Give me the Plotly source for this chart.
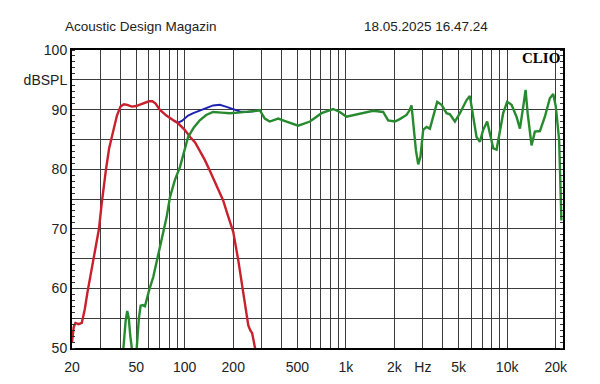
import numpy as np
import plotly.graph_objects as go

# ---------------- data ----------------
red_f = [20, 20.5, 21, 22, 23, 24, 25, 26, 27, 28, 29.4, 30.5, 31.5, 32.5, 34, 36, 38, 40,
         42, 44, 47, 50, 55, 60, 63, 66, 70, 77, 85, 91, 100, 105, 108, 116, 124, 133, 143,
         155, 165, 173, 185, 200, 215, 231, 240, 248, 255, 262, 273, 285]
red_db = [51, 53.5, 54.2, 54.0, 54.2, 56.5, 59.5, 62, 64.5, 67, 70, 74, 77.5, 80, 83.5, 86.5,
          89, 90.5, 90.9, 90.8, 90.5, 90.6, 91.0, 91.4, 91.4, 91.0, 90.0, 89.0, 88.2, 87.7,
          86.6, 85.8, 85.4, 84.5, 83.2, 81.6, 79.8, 77.6, 76.0, 74.8, 72.3, 69.5, 64.7, 59.1,
          56.0, 53.8, 53.0, 52.5, 50.0, 46.0]

blue_f = [85, 91, 96, 105, 113, 124, 137, 150, 165, 180, 200, 220, 242, 265, 280]
blue_db = [88.2, 87.8, 88.1, 89.0, 89.4, 89.9, 90.3, 90.7, 90.8, 90.5, 90.1, 89.7, 89.6, 89.7, 89.8]

green_f = [40, 41.6, 43, 44, 45, 46, 46.9, 48.5, 49.5, 50.4, 52, 53.3, 55, 56.7, 58, 60.3,
           63.8, 67, 70.3, 74, 77.3, 81, 87, 93.5, 100, 105, 114, 124, 136, 150, 170, 190,
           215, 242, 265, 279, 292, 314, 337, 380, 428, 506, 598, 706, 833, 916, 1008, 1136,
           1310, 1475, 1702, 1828, 2011, 2158, 2376, 2470, 2552, 2620, 2717, 2808, 2900,
           3015, 3164, 3318, 3478, 3682, 3920, 4210, 4415, 4742, 5094, 5604, 5870, 6157,
           6458, 6774, 7100, 7520, 7890, 8200, 8600, 9010, 9450, 10000, 10650, 11430, 12000,
           12580, 13010, 13400, 13830, 14170, 14860, 15960, 17140, 18400, 19310, 20040,
           21010, 21400, 21700]
green_db = [44, 50, 54.5, 56.2, 55, 52, 50, 45, 45, 50, 55, 57.1, 57.2, 57, 58.2, 59.8,
            61.9, 64.5, 66.9, 69.5, 72, 75.3, 78.2, 80.4, 83.5, 85.4, 87, 88.2, 89.1, 89.6,
            89.5, 89.4, 89.5, 89.6, 89.7, 89.8, 89.9, 88.5, 88.0, 88.5, 88.0, 87.3, 88.0,
            89.4, 90.1, 89.6, 88.8, 89.1, 89.5, 89.8, 89.6, 88.2, 88.0, 88.4, 89.1, 89.8,
            90.7, 87.7, 83.2, 80.8, 82.1, 86.6, 87.1, 86.8, 88.8, 91.3, 90.8, 89.4, 89.2,
            88.0, 89.4, 91.6, 92.3, 88.8, 85.4, 84.6, 86.6, 88.0, 85.7, 83.5, 83.3, 86.0,
            89.4, 91.3, 90.8, 88.8, 86.8, 90.5, 93.3, 89.4, 86.0, 84.0, 86.3, 86.4, 88.8,
            91.9, 92.6, 90.5, 84.9, 78.0, 71.4]

x_grid = [20, 30, 40, 50, 60, 70, 80, 90, 100, 200, 300, 400, 500, 600, 700, 800, 900,
          1000, 2000, 3000, 4000, 5000, 6000, 7000, 8000, 9000, 10000, 20000]
x_text = {20: "20", 50: "50", 100: "100", 200: "200", 500: "500", 1000: "1k", 2000: "2k",
          3000: "Hz", 5000: "5k", 10000: "10k", 20000: "20k"}
y_grid = [50, 55, 60, 65, 70, 75, 80, 85, 90, 95, 100]
y_text = {50: "50", 60: "60", 70: "70", 80: "80", 90: "90", 95: "dBSPL", 100: "100"}

# ---------------- figure ----------------
RED = "#C8202C"
GREEN = "#278A2E"
BLUE = "#1F22B0"
GRID = "#3c3c3c"
FONT = "Liberation Sans, Arial, sans-serif"

fig = go.Figure()
fig.add_trace(go.Scatter(x=blue_f, y=blue_db, mode="lines",
                         line=dict(color=BLUE, width=2), hoverinfo="skip"))
fig.add_trace(go.Scatter(x=red_f, y=red_db, mode="lines",
                         line=dict(color=RED, width=2.4), hoverinfo="skip"))
fig.add_trace(go.Scatter(x=green_f, y=green_db, mode="lines", yaxis="y2",
                         line=dict(color=GREEN, width=2.4), hoverinfo="skip"))

x_range = [np.log10(20), 4.3464]
# page body has an 8px margin: figure is 592x376, plot area 491x298
fig.update_layout(
    width=592, height=376,
    margin=dict(l=64, r=37, t=42, b=36),
    paper_bgcolor="white", plot_bgcolor="white",
    showlegend=False,
    font=dict(family=FONT, size=14, color="#222"),
    xaxis=dict(type="log", range=x_range, tickmode="array", automargin=False,
               tickvals=x_grid, ticktext=[x_text.get(v, "") for v in x_grid],
               showgrid=True, gridcolor=GRID, gridwidth=1,
               showline=True, linecolor="black", linewidth=2, mirror=True,
               ticks="", ticklabelstandoff=5, zeroline=False,
               tickfont=dict(size=14, color="#222")),
    yaxis=dict(range=[50, 100], tickmode="array", automargin=False,
               tickvals=y_grid, ticktext=[y_text.get(v, "") for v in y_grid],
               showgrid=True, gridcolor=GRID, gridwidth=1,
               showline=True, linecolor="black", linewidth=2, mirror=True,
               ticks="", zeroline=False,
               minor=dict(tickmode="array", tickvals=list(range(50, 101)),
                          ticks="inside", ticklen=3, tickcolor="#333", showgrid=False),
               tickfont=dict(size=14, color="#222")),
    yaxis2=dict(range=[50, 100], overlaying="y", side="right", automargin=False,
                showgrid=False, showticklabels=False, zeroline=False,
                showline=False, ticks="", tickmode="array", tickvals=[],
                minor=dict(tickmode="array", tickvals=list(range(50, 101)),
                           ticks="inside", ticklen=3, tickcolor="#333", showgrid=False)),
)

fig.add_annotation(text="Acoustic Design Magazin", xref="paper", yref="paper",
                   x=-0.019, y=1.0805, xanchor="left", yanchor="middle",
                   showarrow=False, font=dict(size=13.5, color="#222", family=FONT))
fig.add_annotation(text="18.05.2025 16.47.24", xref="paper", yref="paper",
                   x=0.8513, y=1.0805, xanchor="right", yanchor="middle",
                   showarrow=False, font=dict(size=13.5, color="#222", family=FONT))
fig.add_annotation(text="<b>CLIO</b>", xref="paper", yref="paper",
                   x=0.997, y=0.973, xanchor="right", yanchor="middle",
                   showarrow=False,
                   font=dict(size=15, color="black", family="Liberation Serif, Times New Roman, serif"))

fig.write_html("out.html")
